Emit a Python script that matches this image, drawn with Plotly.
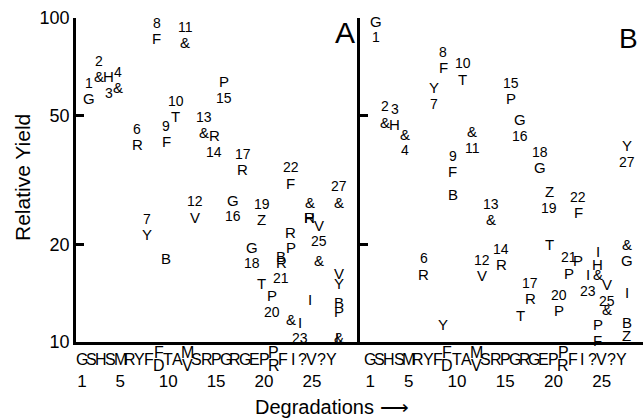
import math
import plotly.graph_objects as go

# ---------------- data ----------------
# Panel A: numbered residues (cycle, relative yield, residue, number placement)
A_cycle = [1, 2, 3, 4, 6, 7, 8, 9, 10, 11, 12, 13, 14, 15, 16, 17, 18, 19, 20, 21, 22, 23, 25, 27]
A_yield = [56.3, 65.8, 65.8, 60.9, 40.6, 21.4, 86.3, 41.5, 49.5, 83.9, 24.3, 44.2, 43.3, 63.6,
           27.4, 34.0, 19.6, 23.8, 13.9, 17.6, 30.9, 11.5, 22.9, 27.0]
A_res = ['G', '&', 'H', '&', 'R', 'Y', 'F', 'F', 'T', '&', 'V', '&', 'R', 'P',
         'G', 'R', 'G', 'Z', 'P', 'R', 'F', 'I', 'V', '&']
A_numpos = ['above', 'above', 'below', 'above', 'above', 'above', 'above', 'above', 'above', 'above',
            'above', 'above', 'below', 'below', 'below', 'above', 'below', 'above', 'below', 'below',
            'above', 'below', 'below', 'above']
# Panel A: additional (unnumbered) residues
A_ex_cycle = [9, 24, 24, 24, 22, 22, 21, 19, 22, 24, 25, 27, 27, 27, 27, 27, 27]
A_ex_yield = [18.1, 26.9, 24.3, 24.3, 21.8, 19.6, 18.3, 15.2, 11.7, 13.5, 17.9, 16.3, 15.2, 13.2, 12.4, 10.3, 10.3]
A_ex_res = ['B', '&', 'R', 'H', 'R', 'P', 'B', 'T', '&', 'I', '&', 'V', 'Y', 'B', 'P', 'L', '&']

# Panel B: numbered residues
B_cycle = [1, 2, 3, 4, 6, 7, 8, 9, 10, 11, 12, 13, 14, 15, 16, 17, 18, 19, 20, 21, 22, 23, 25, 27]
B_yield = [97.6, 47.6, 46.9, 43.7, 16.2, 61.0, 70.3, 33.5, 64.6, 44.6, 16.0, 23.8, 17.3, 56.4,
           48.6, 13.6, 34.5, 29.1, 12.5, 16.3, 25.1, 16.1, 15.0, 40.4]
B_res = ['G', '&', 'H', '&', 'R', 'Y', 'F', 'F', 'T', '&', 'V', '&', 'R', 'P',
         'G', 'R', 'G', 'Z', 'P', 'P', 'F', 'I', 'V', 'Y']
B_numpos = ['below', 'above', 'above', 'below', 'above', 'below', 'above', 'above', 'above', 'below',
            'above', 'above', 'above', 'above', 'below', 'above', 'above', 'below', 'above', 'above',
            'above', 'below', 'below', 'below']
# Panel B: additional residues
B_ex_cycle = [9, 8, 19, 22, 16, 24, 24, 24, 25, 27, 27, 27, 24, 24, 27, 27]
B_ex_yield = [28.5, 11.3, 20.0, 17.9, 12.1, 19.0, 17.3, 16.1, 12.6, 20.0, 17.9, 14.2, 11.3, 10.1, 11.5, 10.5]
B_ex_res = ['B', 'Y', 'T', 'P', 'T', 'I', 'H', '&', '&', '&', 'G', 'I', 'P', 'F', 'B', 'Z']

# Sequence written under the axis (top/bottom for doubtful positions)
SEQ_TOP = ['G', 'S', 'H', 'S', 'M', 'R', 'Y', 'F', 'F', 'T', 'A', 'M', 'S', 'R', 'P', 'G', 'R', 'G',
           'E', 'P', 'P', 'F', 'I', '?', 'V', '?', 'Y']
SEQ_BOT = ['', '', '', '', '', '', '', '', 'D', '', '', 'V', '', '', '', '', '', '',
           '', '', 'R', '', '', '', '', '', '']

X_TICKS = [1, 5, 10, 15, 20, 25]
Y_TICKS = [10, 20, 50, 100]
Y_TICKTEXT = ['10', '20', '50', '100']

# ---------------- figure ----------------
FONT = 'Liberation Sans, Arial, sans-serif'
W, H = 643, 418
ML, MR, MT, MB = 76, 0, 18, 76

fig = go.Figure()
fig.add_trace(go.Scatter(x=A_cycle, y=A_yield, mode='markers', marker=dict(opacity=0),
                         hoverinfo='skip', showlegend=False, xaxis='x', yaxis='y'))
fig.add_trace(go.Scatter(x=B_cycle, y=B_yield, mode='markers', marker=dict(opacity=0),
                         hoverinfo='skip', showlegend=False, xaxis='x2', yaxis='y2'))

ann = []
letter_font = dict(family=FONT, size=15, color='black')
num_font = dict(family=FONT, size=14, color='black')


def A(**kw):
    d = dict(showarrow=False, xanchor='center', yanchor='middle')
    d.update(kw)
    ann.append(d)


def panel(xref, yref, cyc, yld, res, numpos, ex_c, ex_y, ex_r, dx):
    for c, v, r, p in zip(cyc, yld, res, numpos):
        ly = math.log10(v)
        A(x=c, y=ly, xref=xref, yref=yref, text=r, xshift=dx, font=letter_font)
        A(x=c, y=ly, xref=xref, yref=yref, text=str(c), xshift=dx,
          yshift=16 if p == 'above' else -16, font=num_font)
    for c, v, r in zip(ex_c, ex_y, ex_r):
        A(x=c, y=math.log10(v), xref=xref, yref=yref, text=r, xshift=dx, font=letter_font)


panel('x', 'y', A_cycle, A_yield, A_res, A_numpos, A_ex_cycle, A_ex_yield, A_ex_res, 7.5)
panel('x2', 'y2', B_cycle, B_yield, B_res, B_numpos, B_ex_cycle, B_ex_yield, B_ex_res, 5.5)

# sequence rows
seq_font = dict(family=FONT, size=16, color='black')
PH = H - MT - MB
PW = W - ML - MR
for xref in ('x', 'x2'):
    for i, (t, b) in enumerate(zip(SEQ_TOP, SEQ_BOT)):
        c = i + 1
        if b:
            A(x=c, y=-(352 - 342) / PH, xref=xref, yref='paper', text=t, font=seq_font)
            A(x=c, y=-(366 - 342) / PH, xref=xref, yref='paper', text=b, font=seq_font)
        else:
            A(x=c, y=-(359 - 342) / PH, xref=xref, yref='paper', text=t, font=seq_font)

A(x=(345 - ML) / PW, y=(342 - 33) / PH, xref='paper', yref='paper', text='A',
  font=dict(family=FONT, size=30, color='black'))
A(x=(628 - ML) / PW, y=(342 - 38) / PH, xref='paper', yref='paper', text='B',
  font=dict(family=FONT, size=28, color='black'))
A(x=(332 - ML) / PW, y=-(407 - 342) / PH, xref='paper', yref='paper',
  text='Degradations ⟶', font=dict(family=FONT, size=20, color='black'))
A(x=-(76 - 22) / PW, y=(342 - 178) / PH, xref='paper', yref='paper',
  text='Relative Yield', textangle=-90, font=dict(family=FONT, size=21, color='black'))

axis_common = dict(showline=True, linecolor='black', linewidth=2.5, showgrid=False, zeroline=False)
xaxis_common = dict(axis_common, tickvals=X_TICKS, ticks='', ticklabelstandoff=22,
                    tickfont=dict(family=FONT, size=17, color='black'))
yaxis_common = dict(axis_common, type='log', range=[1, 2], tickvals=Y_TICKS, ticktext=Y_TICKTEXT,
                    ticks='inside', ticklen=8, tickwidth=2.5, tickcolor='black',
                    tickfont=dict(family=FONT, size=18, color='black'))

fig.update_layout(
    width=W, height=H,
    margin=dict(l=ML, r=MR, t=MT, b=MB),
    paper_bgcolor='white', plot_bgcolor='white',
    showlegend=False,
    xaxis=dict(xaxis_common, domain=[0, (358 - ML) / PW], range=[0.376, 29.81], anchor='y'),
    xaxis2=dict(xaxis_common, domain=[(360 - ML) / PW, 1], range=[-0.05, 29.27], anchor='y2'),
    yaxis=dict(yaxis_common, anchor='x', domain=[0, 1]),
    yaxis2=dict(yaxis_common, anchor='x2', domain=[0, 1], showticklabels=False),
    annotations=ann,
)

fig.write_html('out.html', config={'displayModeBar': False},
               post_script="document.body.style.margin='0';document.body.style.overflow='hidden';")
